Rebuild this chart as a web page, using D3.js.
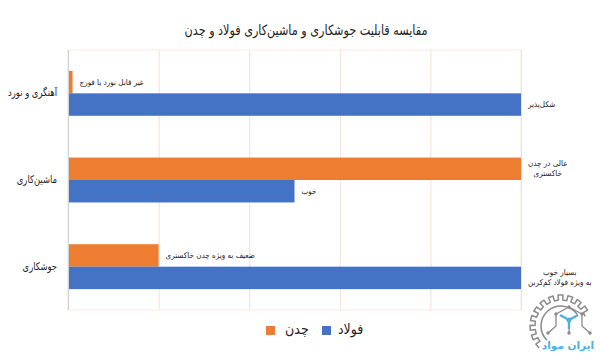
<!DOCTYPE html>
<html>
<head>
<meta charset="utf-8">
<script src="https://cdn.jsdelivr.net/npm/d3@7"></script>
<style>
  html, body { margin: 0; padding: 0; background: #fff; }
  svg { display: block; font-family: "DejaVu Sans", sans-serif; }
</style>
</head>
<body>
<svg id="chart" width="600" height="360"></svg>
<script>
const title = "مقایسه قابلیت جوشکاری و ماشین‌کاری فولاد و چدن";
const categories = ["آهنگری و نورد", "ماشین‌کاری", "جوشکاری"];
const seriesNames = ["چدن", "فولاد"];
const castIronValues = [1, 100, 20];
const steelValues = [100, 50, 100];
const castIronLabels = [["غیر قابل نورد یا فورج"], ["عالی در چدن", "خاکستری"], ["ضعیف به ویژه چدن خاکستری"]];
const steelLabels = [["شکل‌پذیر"], ["خوب"], ["بسیار خوب", "به ویژه فولاد کم‌کربن"]];
const xTicks = [0, 20, 40, 60, 80, 100];
const legendOrder = ["چدن", "فولاد"];
const logoText = "ایران مواد";

const colors = { "چدن": "#ED7D31", "فولاد": "#4472C4" };
const svg = d3.select("#chart");
const SQUEEZE = 0.8;
function condense(sel, k) {
  sel.each(function () {
    const w = this.getComputedTextLength();
    d3.select(this).attr("textLength", (w * (k || SQUEEZE)).toFixed(1)).attr("lengthAdjust", "spacingAndGlyphs");
  });
  return sel;
}

const plot = { left: 68, right: 521, top: 50, bottom: 310 };
const x = d3.scaleLinear().domain([0, 100]).range([plot.left, plot.right]);
const y = d3.scaleBand().domain(categories).range([plot.top, plot.bottom]).padding(0);
const ySub = d3.scaleBand().domain(seriesNames).range([0, y.bandwidth()]).paddingInner(0).paddingOuter(0.93);

// logo (decorative watermark, drawn first so it sits behind the texts)
const logo = svg.append("g").attr("opacity", 0.85);
const gc = { x: 561, y: 326 };
const rIn = 26, rOut = 31, teeth = 11;
const a0 = Math.PI * 0.12, a1 = Math.PI * 1.25;
let pathD = "";
const nSeg = teeth * 2;
const ang = d3.scaleLinear().domain([0, nSeg]).range([a0, a1]);
d3.range(0, nSeg).forEach(k => {
  const r = (k % 2 === 0) ? rIn : rOut;
  const aa = ang(k), ab = ang(k + 1);
  const p1 = [gc.x + r * Math.cos(aa), gc.y - r * Math.sin(aa)];
  const p2 = [gc.x + r * Math.cos(ab), gc.y - r * Math.sin(ab)];
  pathD += (k === 0 ? "M" : "L") + p1[0].toFixed(1) + "," + p1[1].toFixed(1) + "L" + p2[0].toFixed(1) + "," + p2[1].toFixed(1);
});
logo.append("path").attr("d", pathD).attr("fill", "none").attr("stroke", "#777").attr("stroke-width", 1.5).attr("stroke-linejoin", "round");
const inner = d3.arc()({ innerRadius: 20, outerRadius: 20, startAngle: -Math.PI * 0.75, endAngle: Math.PI * 0.3 });
logo.append("path").attr("transform", `translate(${gc.x},${gc.y})`).attr("d", inner)
  .attr("fill", "none").attr("stroke", "#777").attr("stroke-width", 1.5);
const cube = [[[569, 307], [582, 314]], [[569, 307], [556, 314]], [[582, 314], [582, 326]], [[556, 314], [556, 326]],
  [[556, 326], [548, 333]], [[582, 326], [590, 333]], [[569, 328], [569, 333]]];
cube.forEach(l => logo.append("line").attr("x1", l[0][0]).attr("y1", l[0][1]).attr("x2", l[1][0]).attr("y2", l[1][1])
  .attr("stroke", "#777").attr("stroke-width", 1.3));
[[569, 307], [582, 314], [556, 314], [548, 333], [590, 333], [569, 333]].forEach(p =>
  logo.append("circle").attr("cx", p[0]).attr("cy", p[1]).attr("r", 1.7).attr("fill", "#777"));
[[[560, 315], [569, 320]], [[578, 315], [569, 320]], [[569, 320], [569, 329]]].forEach(l =>
  logo.append("line").attr("x1", l[0][0]).attr("y1", l[0][1]).attr("x2", l[1][0]).attr("y2", l[1][1])
    .attr("stroke", "#2ea3dc").attr("stroke-width", 2.4));
logo.append("circle").attr("cx", 569).attr("cy", 320).attr("r", 2.5).attr("fill", "#2ea3dc");
logo.append("text").attr("x", 568).attr("y", 346).attr("text-anchor", "middle")
  .attr("dominant-baseline", "middle").attr("font-size", 10.5).attr("font-weight", "bold")
  .attr("fill", "#2ea3dc").attr("stroke", "#fff").attr("stroke-width", 2).attr("paint-order", "stroke")
  .text(logoText);

// title
condense(svg.append("text").attr("x", 306).attr("y", 31)
  .attr("text-anchor", "middle").attr("dominant-baseline", "middle")
  .attr("font-size", 14).attr("fill", "#222").text(title));

// plot border (faint)
svg.append("rect").attr("x", plot.left).attr("y", plot.top)
  .attr("width", plot.right - plot.left).attr("height", plot.bottom - plot.top)
  .attr("fill", "none").attr("stroke", "#fbe7e0").attr("stroke-width", 1);

// gridlines
svg.append("g").selectAll("line").data(xTicks.slice(1)).join("line")
  .attr("x1", d => x(d) + 0.5).attr("x2", d => x(d) + 0.5)
  .attr("y1", plot.top).attr("y2", plot.bottom)
  .attr("stroke", "#f9dcd2").attr("stroke-width", 1);

// left axis
svg.append("line").attr("x1", plot.left + 0.5).attr("x2", plot.left + 0.5)
  .attr("y1", plot.top).attr("y2", plot.bottom)
  .attr("stroke", "#d4d4d4").attr("stroke-width", 1.2);

// category labels
condense(svg.append("g").selectAll("text").data(categories).join("text")
  .attr("x", 57).attr("y", d => y(d) + y.bandwidth() / 2)
  .attr("text-anchor", "end").attr("dominant-baseline", "middle")
  .attr("font-size", 10.5).attr("fill", "#222").text(d => d));

// bars
const rows = [];
categories.forEach((c, i) => {
  rows.push({ cat: c, series: "چدن", value: castIronValues[i], label: castIronLabels[i] });
  rows.push({ cat: c, series: "فولاد", value: steelValues[i], label: steelLabels[i] });
});

svg.append("g").selectAll("rect").data(rows).join("rect")
  .attr("x", x(0) + 1)
  .attr("y", d => y(d.cat) + ySub(d.series))
  .attr("width", d => x(d.value) - x(0) - 1)
  .attr("height", ySub.bandwidth())
  .attr("fill", d => colors[d.series]);

// data labels
const LBL_SQ = 0.9;
const lblG = svg.append("g");
rows.forEach(d => {
  const cy = y(d.cat) + ySub(d.series) + ySub.bandwidth() / 2;
  const lh = 10;
  const n = d.label.length;
  const texts = d.label.map((s, k) => lblG.append("text")
    .attr("font-size", 8).attr("fill", "#222")
    .attr("text-anchor", "middle").attr("dominant-baseline", "middle")
    .attr("y", cy + (k - (n - 1) / 2) * lh).text(s));
  let maxW = 0;
  texts.forEach(t => { maxW = Math.max(maxW, t.node().getComputedTextLength() * LBL_SQ); condense(t, LBL_SQ); });
  const cx = x(d.value) + 7 + maxW / 2;
  texts.forEach(t => t.attr("x", cx));
});

// legend
const legend = svg.append("g");
const legendPos = [{ rx: 266, tx: 285 }, { rx: 322, tx: 338 }];
legendOrder.forEach((s, i) => {
  legend.append("rect").attr("x", legendPos[i].rx).attr("y", 326)
    .attr("width", 9).attr("height", 9).attr("fill", colors[s]);
  condense(legend.append("text").attr("x", legendPos[i].tx).attr("y", 330)
    .attr("dominant-baseline", "middle").attr("font-size", 14).attr("fill", "#222").text(s), 0.9);
});
</script>
</body>
</html>
